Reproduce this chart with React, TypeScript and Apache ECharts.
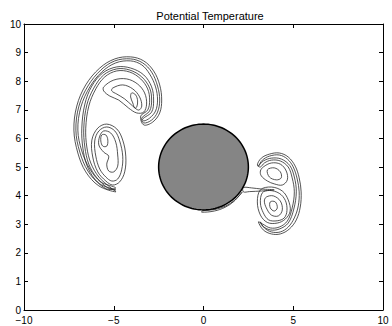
import React, { useEffect, useRef } from "react";
import * as echarts from "echarts";

type Pt = [number, number];

// Axis ticks
const xTicks = [-10, -5, 0, 5, 10];
const yTicks = [0, 1, 2, 3, 4, 5, 6, 7, 8, 9, 10];

// Solid obstacle (ellipse in data units)
const obstacleCenter: Pt = [0, 5];
const obstacleRadii: Pt = [2.5, 1.5];

// Left vortex: band contours
const leftBand1: Pt[] = [
  [-4.89, 4.13], [-5.83, 4.34], [-6.56, 4.83], [-7.0, 5.49], [-7.22, 6.29], [-7.06, 7.13], [-6.56, 7.87], [-5.78, 8.46],
  [-4.94, 8.78], [-4.06, 8.85], [-3.33, 8.71], [-2.78, 8.36], [-2.44, 7.87], [-2.33, 7.34], [-2.44, 6.89], [-2.83, 6.57],
  [-3.33, 6.47], [-3.5, 6.78], [-3.11, 6.99], [-3.0, 7.34], [-3.11, 7.73], [-3.5, 8.08], [-4.11, 8.32], [-4.83, 8.36],
  [-5.5, 8.15], [-6.0, 7.73], [-6.39, 7.13], [-6.56, 6.36], [-6.5, 5.7], [-6.28, 5.14], [-5.83, 4.65], [-5.22, 4.3],
];
const leftBand2: Pt[] = [
  [-4.89, 4.2], [-5.78, 4.41], [-6.44, 4.86], [-6.89, 5.52], [-7.11, 6.29], [-6.94, 7.13], [-6.44, 7.83], [-5.72, 8.39],
  [-4.94, 8.71], [-4.06, 8.78], [-3.39, 8.64], [-2.89, 8.32], [-2.56, 7.83], [-2.44, 7.34], [-2.56, 6.92], [-2.89, 6.64],
  [-3.33, 6.54], [-3.44, 6.71], [-3.0, 6.96], [-2.89, 7.34], [-3.0, 7.76], [-3.44, 8.15], [-4.11, 8.39], [-4.83, 8.43],
  [-5.56, 8.22], [-6.11, 7.76], [-6.5, 7.17], [-6.67, 6.36], [-6.61, 5.7], [-6.39, 5.1], [-5.94, 4.62], [-5.33, 4.27],
];
const leftBand3: Pt[] = [
  [-4.89, 4.27], [-5.72, 4.48], [-6.33, 4.93], [-6.78, 5.56], [-7.0, 6.29], [-6.83, 7.1], [-6.33, 7.8], [-5.67, 8.32],
  [-4.89, 8.64], [-4.06, 8.71], [-3.44, 8.57], [-3.0, 8.25], [-2.67, 7.8], [-2.56, 7.34], [-2.67, 6.96], [-3.0, 6.71],
  [-3.33, 6.61], [-3.39, 6.68], [-2.89, 6.92], [-2.78, 7.34], [-2.89, 7.8], [-3.33, 8.22], [-4.06, 8.46], [-4.83, 8.5],
  [-5.61, 8.29], [-6.22, 7.83], [-6.61, 7.2], [-6.78, 6.36], [-6.72, 5.66], [-6.5, 5.07], [-6.06, 4.58], [-5.39, 4.23],
];
// Left vortex: upper lobe
const leftUpper1: Pt[] = [
  [-5.56, 7.8], [-5.0, 8.04], [-4.28, 8.08], [-3.67, 7.9], [-3.28, 7.59], [-3.17, 7.2], [-3.33, 6.92], [-3.72, 6.89],
  [-4.17, 7.06], [-4.72, 7.34], [-5.22, 7.48], [-5.56, 7.66],
];
const leftUpper2: Pt[] = [
  [-5.06, 7.76], [-4.5, 7.87], [-3.94, 7.73], [-3.56, 7.45], [-3.44, 7.13], [-3.61, 6.99], [-3.94, 7.13], [-4.39, 7.38],
  [-4.83, 7.55], [-5.11, 7.66],
];
const leftUpper3: Pt[] = [
  [-4.0, 7.59], [-3.78, 7.52], [-3.67, 7.31], [-3.72, 7.1], [-3.83, 7.06], [-3.94, 7.24], [-4.06, 7.45],
];
// Left vortex: lower lobe
const leftLower1: Pt[] = [
  [-5.39, 6.5], [-4.83, 6.33], [-4.5, 5.94], [-4.33, 5.38], [-4.39, 4.83], [-4.67, 4.48], [-5.06, 4.37], [-5.44, 4.51],
  [-5.89, 4.83], [-6.17, 5.35], [-6.22, 5.94], [-5.89, 6.36],
];
const leftLower2: Pt[] = [
  [-5.39, 6.4], [-4.94, 6.26], [-4.67, 5.91], [-4.5, 5.38], [-4.56, 4.9], [-4.78, 4.58], [-5.11, 4.51], [-5.44, 4.65],
  [-5.78, 4.93], [-6.0, 5.38], [-6.06, 5.91], [-5.83, 6.26],
];
const leftLower3: Pt[] = [
  [-5.56, 6.26], [-5.17, 6.19], [-4.89, 5.87], [-4.78, 5.42], [-4.78, 5.03], [-5.0, 4.83], [-5.28, 4.86], [-5.39, 5.1],
  [-5.28, 5.38], [-5.56, 5.52], [-5.83, 5.77], [-5.78, 6.08],
];
const leftLower4: Pt[] = [
  [-5.67, 6.12], [-5.44, 6.12], [-5.33, 5.94], [-5.39, 5.73], [-5.61, 5.73], [-5.72, 5.91],
];

// Right vortex: band contours
const rightBand1: Pt[] = [
  [3.0, 5.07], [3.22, 5.31], [3.67, 5.45], [4.22, 5.49], [4.72, 5.35], [5.11, 5.03], [5.33, 4.62], [5.44, 4.13],
  [5.39, 3.6], [5.17, 3.15], [4.78, 2.83], [4.28, 2.66], [3.78, 2.66], [3.33, 2.8], [3.06, 3.08],
  [3.28, 3.01], [3.72, 2.87], [4.22, 2.9], [4.67, 3.11], [4.94, 3.57], [5.06, 4.13], [4.94, 4.62], [4.72, 5.0],
  [4.28, 5.21], [3.78, 5.24], [3.39, 5.14], [3.17, 5.0],
];
const rightBand2: Pt[] = [
  [3.06, 5.03], [3.28, 5.24], [3.67, 5.38], [4.22, 5.42], [4.67, 5.28], [5.0, 5.0], [5.22, 4.58], [5.33, 4.13],
  [5.28, 3.64], [5.06, 3.22], [4.72, 2.9], [4.28, 2.73], [3.78, 2.73], [3.39, 2.87], [3.17, 3.08],
  [3.28, 2.94], [3.72, 2.8], [4.22, 2.83], [4.72, 3.04], [5.03, 3.53], [5.17, 4.13], [5.06, 4.65], [4.81, 5.05],
  [4.33, 5.28], [3.78, 5.31], [3.33, 5.21], [3.11, 5.07],
];
// Right vortex: upper lobe
const rightUpper1: Pt[] = [
  [3.33, 5.0], [3.78, 5.14], [4.28, 5.1], [4.61, 4.86], [4.67, 4.55], [4.39, 4.37], [3.94, 4.41], [3.56, 4.51],
  [3.22, 4.69], [3.17, 4.86],
];
const rightUpper2: Pt[] = [
  [3.56, 4.9], [3.94, 4.97], [4.28, 4.83], [4.33, 4.62], [4.06, 4.55], [3.67, 4.65],
];
// Right vortex: lower lobe
const rightLower0: Pt[] = [
  [3.17, 4.2], [3.78, 4.3], [4.39, 4.16], [4.72, 3.85], [4.83, 3.46], [4.56, 3.18], [4.11, 3.04], [3.56, 3.06],
  [3.17, 3.32], [3.0, 3.78],
];
const rightLower1: Pt[] = [
  [3.28, 4.1], [3.67, 4.18], [4.22, 4.08], [4.56, 3.83], [4.65, 3.48], [4.5, 3.22], [4.11, 3.12], [3.63, 3.15],
  [3.33, 3.4], [3.17, 3.74],
];
const rightLower2: Pt[] = [
  [3.5, 3.95], [3.89, 3.99], [4.28, 3.81], [4.39, 3.5], [4.17, 3.29], [3.78, 3.32], [3.5, 3.57], [3.39, 3.81],
];
const rightLower3: Pt[] = [
  [3.72, 3.78], [4.0, 3.78], [4.11, 3.57], [3.94, 3.46], [3.72, 3.57],
];
// Thin filaments near the obstacle
const tongue: Pt[] = [
  [2.22, 4.28], [2.67, 4.27], [3.22, 4.23], [3.94, 4.2], [3.22, 4.16], [2.56, 4.14], [2.22, 4.13],
];
const wake: Pt[] = [
  [-0.1, 3.42], [0.6, 3.46], [1.2, 3.59], [1.7, 3.8], [2.15, 4.12], [1.75, 3.85], [1.25, 3.64], [0.6, 3.51], [-0.05, 3.47],
];

const contours: Pt[][] = [
  leftBand1, leftBand2, leftBand3, leftUpper1, leftUpper2, leftUpper3, leftLower1, leftLower2, leftLower3, leftLower4,
  rightBand1, rightBand2, rightUpper1, rightUpper2, rightLower0, rightLower1, rightLower2, rightLower3, tongue, wake,
];

const FONT = "Liberation Sans, Arial, Helvetica, sans-serif";
const fmt = (v: number) => String(v).replace("-", "\u2212");

export default function App() {
  const ref = useRef<HTMLDivElement>(null);
  useEffect(() => {
    if (!ref.current) return;
    const chart = echarts.init(ref.current, null, { renderer: "svg" });
    const axisCommon = {
      type: "value" as const,
      axisLine: { show: true, onZero: false, lineStyle: { color: "#000", width: 1 } },
      axisTick: { show: true, inside: true, length: 4, lineStyle: { color: "#000" } },
      splitLine: { show: false },
    };
    chart.setOption({
      animation: false,
      textStyle: { fontFamily: FONT },
      title: {
        text: "Potential Temperature",
        left: 205,
        textAlign: "center",
        top: 5,
        textStyle: { fontSize: 11, fontWeight: "normal", color: "#000", fontFamily: FONT },
      },
      grid: { left: 24, right: 9, top: 24, bottom: 16, containLabel: false },
      xAxis: [
        {
          ...axisCommon,
          position: "bottom",
          min: xTicks[0],
          max: xTicks[xTicks.length - 1],
          interval: 5,
          axisLabel: { formatter: fmt, fontSize: 10, lineHeight: 10, color: "#000", margin: 5, fontFamily: FONT },
        },
        {
          ...axisCommon,
          position: "top",
          min: xTicks[0],
          max: xTicks[xTicks.length - 1],
          interval: 5,
          axisLabel: { show: false },
        },
      ],
      yAxis: [
        {
          ...axisCommon,
          position: "left",
          min: yTicks[0],
          max: yTicks[yTicks.length - 1],
          interval: 1,
          axisLabel: { formatter: fmt, fontSize: 10, lineHeight: 10, color: "#000", margin: 3, fontFamily: FONT },
        },
        {
          ...axisCommon,
          position: "right",
          min: yTicks[0],
          max: yTicks[yTicks.length - 1],
          interval: 1,
          axisLabel: { show: false },
        },
      ],
      series: [
        {
          type: "custom",
          xAxisIndex: 0,
          yAxisIndex: 0,
          data: contours.map((c) => c[0]),
          silent: true,
          renderItem: (params: any, api: any) => {
            const c = contours[params.dataIndex];
            const pts = c.map((p) => api.coord(p));
            return {
              type: "polygon",
              shape: { points: pts, smooth: 0.35 },
              style: { fill: "none", stroke: "#2a2a2a", lineWidth: 0.8 },
            };
          },
        },
        {
          type: "custom",
          xAxisIndex: 0,
          yAxisIndex: 0,
          data: [[obstacleCenter[0], obstacleCenter[1], obstacleRadii[0], obstacleRadii[1]]],
          silent: true,
          renderItem: (params: any, api: any) => {
            const cx = api.value(0);
            const cy = api.value(1);
            const rx = api.value(2);
            const ry = api.value(3);
            const pts: number[][] = [];
            for (let i = 0; i < 120; i++) {
              const t = (i / 120) * Math.PI * 2;
              pts.push(api.coord([cx + rx * Math.cos(t), cy + ry * Math.sin(t)]));
            }
            return {
              type: "polygon",
              shape: { points: pts },
              style: { fill: "#858585", stroke: "#000", lineWidth: 1.5 },
            };
          },
        },
      ],
    });
    return () => chart.dispose();
  }, []);
  return <div ref={ref} style={{ width: 392, height: 326, position: "absolute", left: 0, top: 0 }} />;
}
